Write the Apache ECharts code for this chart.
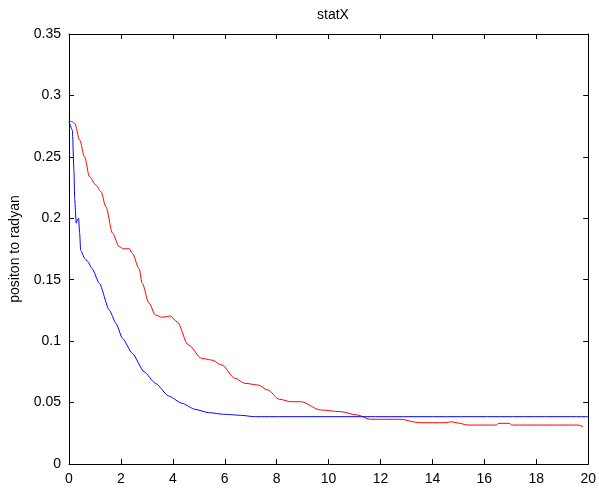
<!DOCTYPE html>
<html><head><meta charset="utf-8">
<script src="https://cdn.jsdelivr.net/npm/echarts@6/dist/echarts.min.js"></script>
<style>html,body{margin:0;padding:0;background:#fff}#c{width:599px;height:493px}</style>
</head><body><div id="c"></div>
<script>
var title = "statX";
var yName = "positon to radyan";
var redX = [0, 0.1, 0.22, 0.41, 0.6, 0.79, 1.04, 1.23, 1.42, 1.68, 1.93, 2.1, 2.32, 2.44, 2.7, 2.82, 3.08, 3.33, 3.59, 3.9, 4.16, 4.6, 5.11, 5.5, 5.88, 6.39, 6.77, 7.28, 7.66, 8.1, 8.55, 8.93, 9.69, 10.46, 11.1, 11.6, 12.75, 13.5, 14.53, 14.72, 14.9, 15.4, 16.44, 16.56, 16.95, 17.07, 19.6, 19.8];
var redY = [0.279, 0.2788, 0.2773, 0.2637, 0.25, 0.2338, 0.227, 0.2217, 0.2094, 0.1878, 0.1769, 0.1752, 0.1752, 0.1715, 0.159, 0.147, 0.131, 0.1213, 0.1194, 0.1205, 0.1158, 0.0969, 0.086, 0.0846, 0.0806, 0.0698, 0.0657, 0.0643, 0.0602, 0.0527, 0.0507, 0.0507, 0.044, 0.0426, 0.0399, 0.0364, 0.0364, 0.0336, 0.0336, 0.0344, 0.0336, 0.0317, 0.0317, 0.0331, 0.0331, 0.0317, 0.0317, 0.0304];
var blueX = [0, 0.13, 0.19, 0.22, 0.28, 0.32, 0.37, 0.41, 0.45, 0.6, 0.73, 0.89, 1.17, 1.55, 1.81, 2.06, 2.44, 2.89, 3.33, 3.84, 4.35, 4.86, 5.37, 6.0, 6.64, 7.15, 20];
var blueY = [0.279, 0.2718, 0.239, 0.215, 0.196, 0.1986, 0.2, 0.1878, 0.174, 0.1675, 0.1647, 0.159, 0.147, 0.1253, 0.1145, 0.1023, 0.0901, 0.0751, 0.0657, 0.0553, 0.0494, 0.0445, 0.0418, 0.0404, 0.0396, 0.0385, 0.0385];

function pairs(xs, ys){ return xs.map(function(x,i){return [x, ys[i]];}); }

var font = 'Liberation Sans, Arial, sans-serif';
var lineStyle = {color:'#000', width:1};
function axisCommon(){
  return {axisLine:{show:true, onZero:false, lineStyle:lineStyle},
          axisTick:{show:true, inside:true, length:5, lineStyle:lineStyle},
          splitLine:{show:false}};
}
var chart = echarts.init(document.getElementById('c'));
chart.setOption({
  animation:false,
  title:{text:title, left:328, top:3, textAlign:'center', textStyle:{fontFamily:font, fontSize:14, fontWeight:'normal', color:'#000'}},
  grid:{left:66, right:9, top:34, bottom:29},
  xAxis:[
    Object.assign(axisCommon(), {type:'value', min:0, max:20, interval:2, position:'bottom', gridIndex:0,
     axisLabel:{color:'#000', fontFamily:font, fontSize:14, margin:8}}),
    Object.assign(axisCommon(), {type:'value', min:0, max:20, interval:2, position:'top', gridIndex:0,
     axisLabel:{show:false}})
  ],
  yAxis:[
    Object.assign(axisCommon(), {type:'value', min:0, max:0.35, interval:0.05, position:'left', gridIndex:0,
     name:yName, nameLocation:'middle', nameGap:47, nameTextStyle:{color:'#000', fontFamily:font, fontSize:14},
     axisLabel:{color:'#000', fontFamily:font, fontSize:14, margin:8, formatter:function(v){return String(+v.toFixed(2));}}}),
    Object.assign(axisCommon(), {type:'value', min:0, max:0.35, interval:0.05, position:'right', gridIndex:0,
     axisLabel:{show:false}})
  ],
  series:[
    {type:'line', xAxisIndex:0, yAxisIndex:0, data:pairs(redX, redY), showSymbol:false, smooth:0.3, smoothMonotone:'x', lineStyle:{color:'#ff0000', width:1}},
    {type:'line', xAxisIndex:0, yAxisIndex:0, data:pairs(blueX, blueY), showSymbol:false, smooth:0.2, smoothMonotone:'x', lineStyle:{color:'#0000ff', width:1}},
    {type:'line', xAxisIndex:1, yAxisIndex:1, data:[], silent:true}
  ]
});
</script></body></html>
